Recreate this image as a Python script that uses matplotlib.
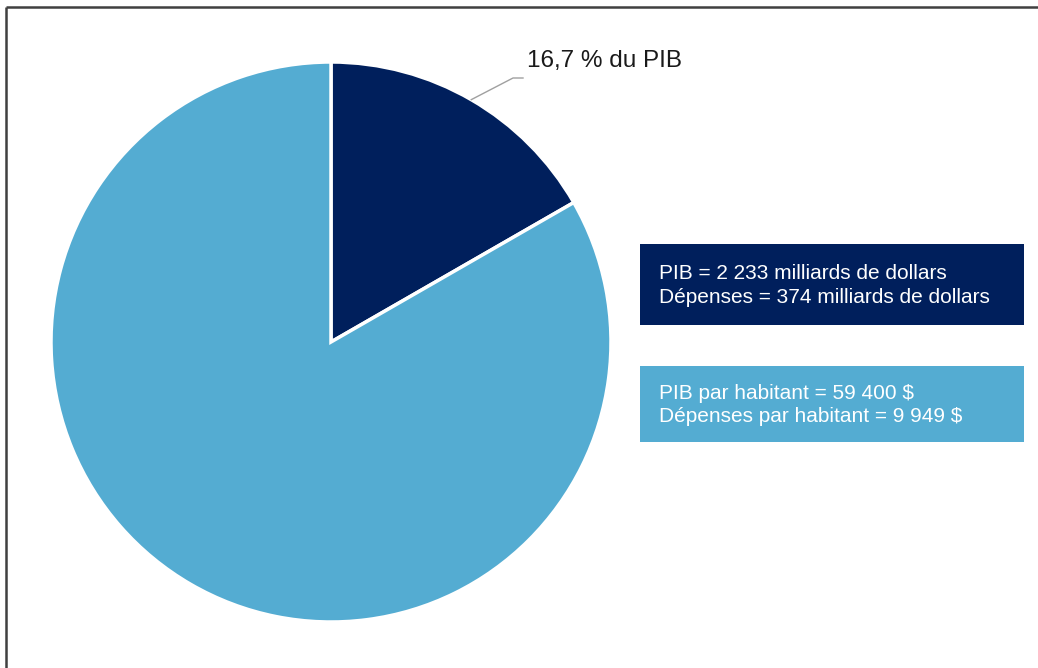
import matplotlib.pyplot as plt
import numpy as np

plt.rcParams['font.family'] = ['Liberation Sans', 'DejaVu Sans']

# data
shares = [16.7, 83.3]
colors = ["#001f5c", "#54acd2"]
label_text = "16,7 % du PIB"
box_lines = [
    "PIB = 2 233 milliards de dollars\nDépenses = 374 milliards de dollars",
    "PIB par habitant = 59 400 $\nDépenses par habitant = 9 949 $",
]

W, H = 1038, 668
fig = plt.figure(figsize=(W / 100, H / 100), dpi=100)
ax = fig.add_axes([0, 0, 1, 1])

# frame (top + left only)
ax.plot([6, W], [H - 7, H - 7], color="#404040", lw=1.8, solid_capstyle="butt")
ax.plot([6, 6], [H - 7, 0], color="#404040", lw=1.8, solid_capstyle="butt")

# pie
cx, cy, r = 331, H - 342, 280
ax.pie(shares, colors=colors, startangle=90, counterclock=False,
       center=(cx, cy), radius=r, frame=True,
       wedgeprops=dict(edgecolor="white", linewidth=2.5))
ax.set_xlim(0, W)
ax.set_ylim(0, H)
ax.set_aspect("equal")
ax.axis("off")

# leader line for the small slice
mid = np.deg2rad(90 - shares[0] / 100 * 360 / 2)
p0 = (cx + r * np.cos(mid), cy + r * np.sin(mid))
ax.plot([p0[0], 513, 523], [p0[1], H - 78, H - 78], color="#a0a0a0", lw=1)
ax.text(527, H - 61, label_text, fontsize=17.5, color="#1a1a1a",
        va="center", ha="left")

# info boxes
boxes = [(640, 244, 325), (640, 366, 442)]
for (x0, top, bot), txt, col in zip(boxes, box_lines, colors):
    ax.add_patch(plt.Rectangle((x0, H - bot), 1024 - x0, bot - top,
                               facecolor=col, edgecolor="none"))
    ax.text(659, H - (top + bot) / 2 - 1, txt, fontsize=15, color="white",
            va="center", ha="left", linespacing=1.3)

fig.savefig("out.png", dpi=100)
